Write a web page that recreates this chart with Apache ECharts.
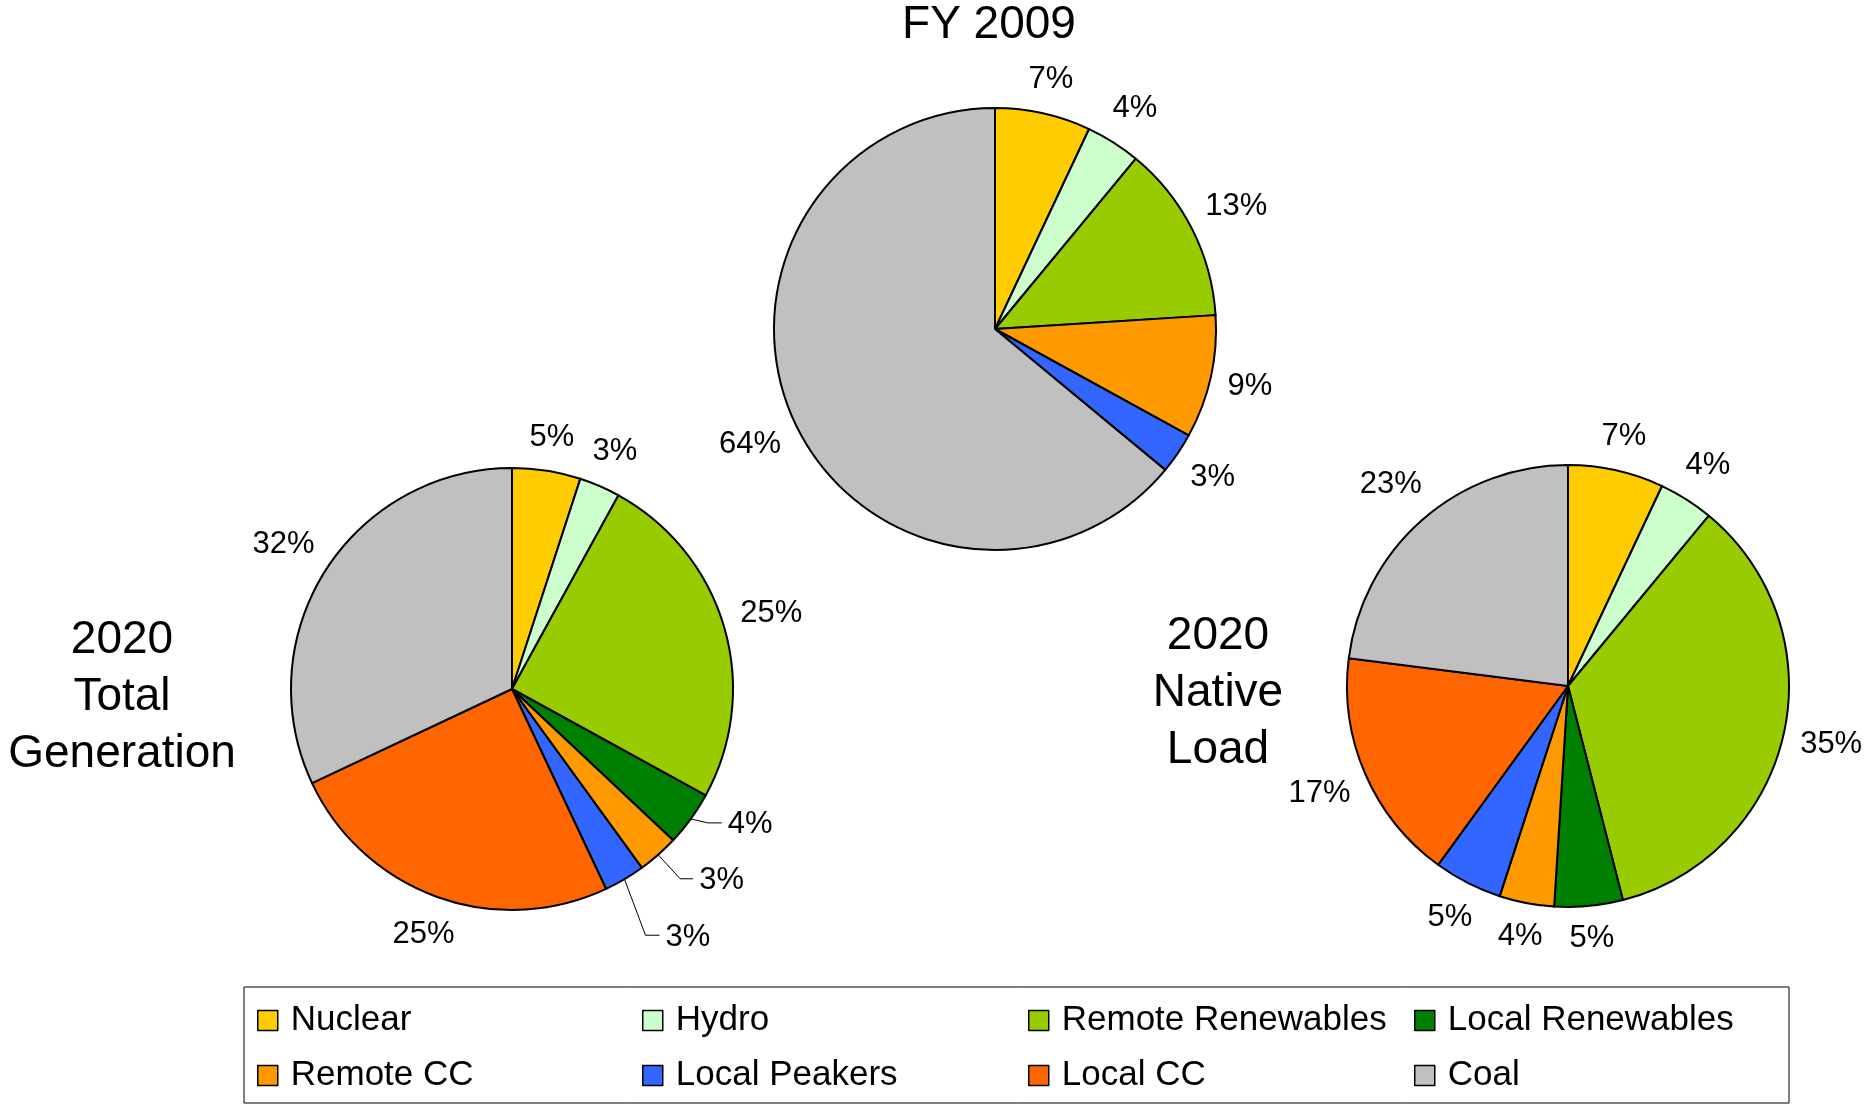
<!DOCTYPE html>
<html>
<head>
<meta charset="utf-8">
<title>Generation mix</title>
<script src="https://cdn.jsdelivr.net/npm/echarts@6/dist/echarts.min.js"></script>
<style>
  html, body { margin: 0; padding: 0; background: #fff; }
  #main { width: 1865px; height: 1106px; }
</style>
</head>
<body>
<div id="main"></div>
<script>
// data (percent of energy)
var categories = ['Nuclear', 'Hydro', 'Remote Renewables', 'Local Renewables', 'Remote CC', 'Local Peakers', 'Local CC', 'Coal'];
var fy2009 = [7, 4, 13, 0, 9, 3, 0, 64];
var total2020 = [5, 3, 25, 4, 3, 3, 25, 32];
var native2020 = [7, 4, 35, 5, 4, 5, 17, 23];
// legend grid: 2 rows x 4 columns
var legendRows = [
  ['Nuclear', 'Hydro', 'Remote Renewables', 'Local Renewables'],
  ['Remote CC', 'Local Peakers', 'Local CC', 'Coal']
];

var colors = {
  'Nuclear': '#FFCC00',
  'Hydro': '#CCFFCC',
  'Remote Renewables': '#99CC00',
  'Local Renewables': '#008000',
  'Remote CC': '#FF9900',
  'Local Peakers': '#3366FF',
  'Local CC': '#FF6600',
  'Coal': '#C0C0C0'
};
var FONT = '"Liberation Sans", Arial, sans-serif';
var GAP = 15;

// leader line shapes for the crowded small slices (offsets from the slice edge)
var totalLeaders = {
  'Local Renewables': { bend: [17, 4], end: [31, 4] },
  'Remote CC': { bend: [22, 24], end: [35, 24] },
  'Local Peakers': { bend: [21, 56], end: [35, 56] }
};

var chart = echarts.init(document.getElementById('main'));

function makeSeries(name, values, center, leaders) {
  var items = [];
  categories.forEach(function (c, i) {
    if (!values[i]) return;
    var item = { name: c, value: values[i], itemStyle: { color: colors[c] } };
    if (leaders && leaders[c]) {
      item.labelLine = { lineStyle: { opacity: 1 } };
    }
    items.push(item);
  });
  return {
    name: name,
    type: 'pie',
    left: 0,
    top: 0,
    width: 2600,
    height: 1106,
    center: center,
    radius: 221,
    startAngle: 90,
    clockwise: true,
    data: items,
    itemStyle: { borderColor: '#000', borderWidth: 2 },
    label: { show: true, position: 'outside', formatter: '{c}%', fontSize: 31, color: '#000', fontFamily: FONT },
    labelLine: { show: true, length: 6, length2: 4, smooth: false, lineStyle: { color: '#000', width: 1, opacity: 0 } },
    labelLayout: function (params) {
      var it = items[params.dataIndex];
      var pts = params.labelLinePoints;
      if (!pts) return {};
      var p = pts[0];
      if (leaders && leaders[it.name]) {
        var ld = leaders[it.name];
        var b = [p[0] + ld.bend[0], p[1] + ld.bend[1]];
        var e = [p[0] + ld.end[0], p[1] + ld.end[1]];
        return { x: e[0] + 6, y: e[1] + 2, align: 'left', verticalAlign: 'middle', labelLinePoints: [p, b, e] };
      }
      // centred on a radial line just outside the pie
      var dx = p[0] - center[0], dy = p[1] - center[1];
      var len = Math.sqrt(dx * dx + dy * dy) || 1;
      var ux = dx / len, uy = dy / len;
      var w = params.labelRect.width, h = params.labelRect.height;
      var d = GAP + Math.abs(ux) * w / 2 + Math.abs(uy) * h / 2;
      return { x: p[0] + ux * d, y: p[1] + uy * d, align: 'center', verticalAlign: 'middle' };
    },
    emphasis: { disabled: true },
    animation: false
  };
}

var colLefts = [257, 642, 1028, 1414];
var rowTops = [1003, 1058];
var legends = [];
legendRows.forEach(function (row, r) {
  row.forEach(function (name, c) {
    legends.push({
      orient: 'horizontal',
      left: colLefts[c],
      top: rowTops[r],
      padding: 0,
      data: [name],
      icon: 'rect',
      itemWidth: 20,
      itemHeight: 20,
      selectedMode: false,
      itemStyle: { borderColor: '#000', borderWidth: 1.5 },
      textStyle: { fontSize: 35, color: '#000', fontFamily: FONT, lineHeight: 20, padding: [0, 0, 0, 8] }
    });
  });
});

var option = {
  animation: false,
  backgroundColor: '#fff',
  tooltip: { show: false },
  legend: legends,
  graphic: [
    { type: 'rect', shape: { x: 244, y: 987, width: 1545, height: 116 }, style: { fill: 'none', stroke: '#000', lineWidth: 1 } },
    { type: 'text', x: 989, y: 25, style: { text: 'FY 2009', font: '46px ' + FONT, fill: '#000', align: 'center', verticalAlign: 'middle' } },
    { type: 'text', x: 122, y: 697, style: { text: '2020\nTotal\nGeneration', font: '46px ' + FONT, lineHeight: 57, fill: '#000', align: 'center', verticalAlign: 'middle' } },
    { type: 'text', x: 1218, y: 693, style: { text: '2020\nNative\nLoad', font: '46px ' + FONT, lineHeight: 57, fill: '#000', align: 'center', verticalAlign: 'middle' } }
  ],
  series: [
    makeSeries('FY 2009', fy2009, [995, 329]),
    makeSeries('2020 Total Generation', total2020, [512, 689], totalLeaders),
    makeSeries('2020 Native Load', native2020, [1568, 686])
  ]
};

chart.setOption(option);
</script>
</body>
</html>
